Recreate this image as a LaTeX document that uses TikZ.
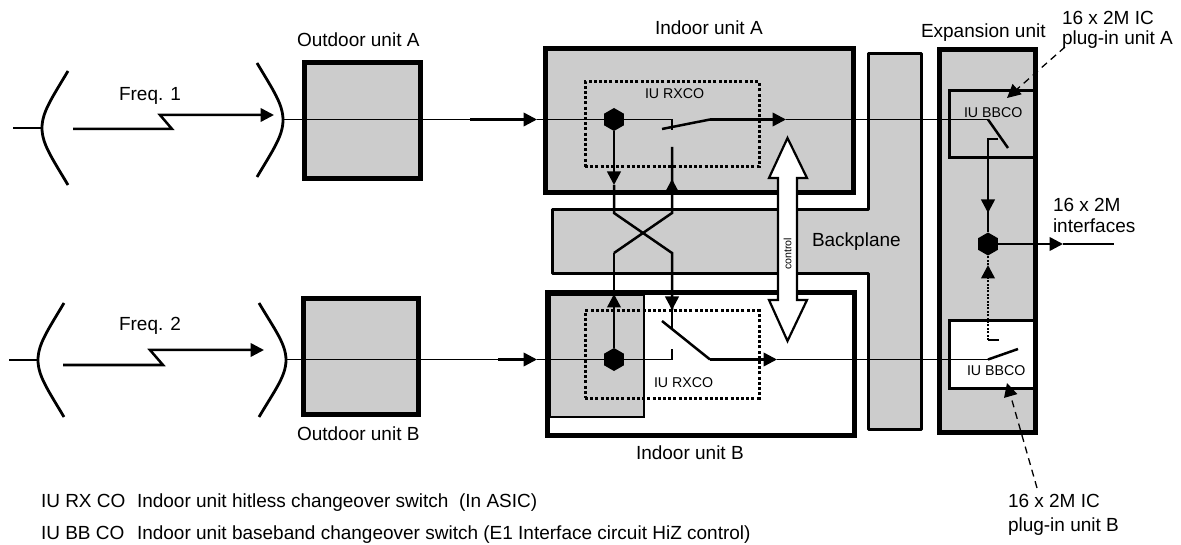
\documentclass[tikz,border=0pt]{standalone}
\usepackage{fontspec}
\setmainfont{Liberation Sans}
\usetikzlibrary{arrows.meta,shapes.geometric}
\definecolor{unitgray}{HTML}{CCCCCC}
\tikzset{
  unitbox/.style={draw=black,line width=5pt,inner sep=0pt,outer sep=0pt},
  plugbox/.style={draw=black,line width=3pt,inner sep=0pt,outer sep=0pt},
  dotbox/.style={draw=black,line width=3pt,dash pattern=on 3pt off 2.2pt,inner sep=0pt,outer sep=0pt},
  junction/.style={regular polygon,regular polygon sides=6,shape border rotate=30,fill=black,minimum size=23pt,inner sep=0pt,outer sep=0pt},
  lab/.style={anchor=base west,inner sep=0pt,outer sep=0pt,font=\fontsize{19}{21}\selectfont},
  smalllab/.style={anchor=base west,inner sep=0pt,outer sep=0pt,font=\fontsize{14.2}{16}\selectfont},
  dish/.style={line width=2.8pt},
  sig/.style={line width=1.7pt},
  thicksig/.style={line width=2.5pt},
  arr/.style={-{Triangle[length=13.5pt,width=13.5pt]}},
  dasharr/.style={line width=1.3pt,dash pattern=on 7pt off 5pt,-{Triangle[length=13.5pt,width=13.5pt]}}
}
\begin{document}
\begin{tikzpicture}[x=1pt,y=-1pt]
\useasboundingbox (0,0) rectangle (1181,545);

% backplane
\draw[fill=unitgray,line width=3pt,line join=round] (868,54) -- (921,54) -- (921,429) -- (868,429) -- (868,274) -- (552,274) -- (552,210) -- (868,210) -- cycle;

% units
\node[unitbox,fill=unitgray,minimum width=116pt,minimum height=116pt] (outA) at (362.5,120.5) {};
\node[unitbox,fill=unitgray,minimum width=115pt,minimum height=116pt] (outB) at (361,356.5) {};
\node[unitbox,fill=unitgray,minimum width=308pt,minimum height=144pt] (inA) at (699.5,120.5) {};
\node[unitbox,fill=white,minimum width=307pt,minimum height=143pt] (inB) at (701,364) {};
\node[draw=black,line width=1.5pt,fill=unitgray,inner sep=0pt,outer sep=0pt,minimum width=94pt,minimum height=122pt] (inBgray) at (597,356) {};
\node[unitbox,fill=unitgray,minimum width=96pt,minimum height=383pt] (exp) at (987.5,241) {};
\node[plugbox,fill=unitgray,minimum width=85pt,minimum height=67pt] (plugA) at (991.5,124.5) {};
\node[plugbox,fill=white,minimum width=85pt,minimum height=67pt] (plugB) at (991.5,354.5) {};

% dotted boxes
\node[dotbox,minimum width=174pt,minimum height=85pt] (rxA) at (672,124.5) {};
\node[dotbox,minimum width=174pt,minimum height=87pt] (rxB) at (672,354.5) {};

% junctions
\node[junction] (hexA) at (614,119.5) {};
\node[junction] (hexB) at (614,359.5) {};
\node[junction] (hexC) at (988,244) {};

% coordinates
\coordinate (dA1) at (68,71);   \coordinate (dA2) at (42,128);  \coordinate (dA3) at (68,185);
\coordinate (dA4) at (257,63);  \coordinate (dA5) at (283,120); \coordinate (dA6) at (257,177);
\coordinate (dB1) at (64,303);  \coordinate (dB2) at (38,360);  \coordinate (dB3) at (64,417);
\coordinate (dB4) at (259,303); \coordinate (dB5) at (286,360); \coordinate (dB6) at (259,417);
\coordinate (stA) at (13,128);  \coordinate (stB) at (9,360);

% dishes
\draw[dish] (dA1) .. controls +(-16,27) and +(0,-16) .. (dA2) .. controls +(0,16) and +(-16,-27) .. (dA3);
\draw[dish] (dB1) .. controls +(-16,27) and +(0,-16) .. (dB2) .. controls +(0,16) and +(-16,-27) .. (dB3);
\draw[dish] (dA4) .. controls +(16,27) and +(0,-16) .. (dA5) .. controls +(0,16) and +(16,-27) .. (dA6);
\draw[dish] (dB4) .. controls +(16,27) and +(0,-16) .. (dB5) .. controls +(0,16) and +(16,-27) .. (dB6);
\draw[sig] (stA) -- (dA2);
\draw[sig] (stB) -- (dB2);

% radio links
\coordinate (lA0) at (73,129); \coordinate (lA1) at (172,129); \coordinate (lA2) at (160,115); \coordinate (lA3) at (274,115);
\coordinate (lB0) at (63,365); \coordinate (lB1) at (163,365); \coordinate (lB2) at (150,350); \coordinate (lB3) at (264,350);
\draw[thicksig,arr] (lA0) -- (lA1) -- (lA2) -- (lA3);
\draw[thicksig,arr] (lB0) -- (lB1) -- (lB2) -- (lB3);

% upper signal path
\coordinate (a0) at (283,119.5); \coordinate (a1) at (470,119.5); \coordinate (a2) at (537,119.5);
\coordinate (pA) at (672,119.5); \coordinate (pA2) at (672,130);
\coordinate (sA1) at (662,129); \coordinate (sA2) at (710,119.5); \coordinate (a3) at (786,119.5);
\coordinate (pC) at (988,119.5); \coordinate (sC) at (1008,148); \coordinate (cA1) at (998,139); \coordinate (cA2) at (988,139);
\coordinate (tipC) at (988,213);
\draw[sig] (a0) -- (a1);
\draw[thicksig,arr] (a1) -- (a2);
\draw[sig] (a2) -- (hexA);
\draw[sig] (hexA) -- (pA) -- (pA2);
\draw[thicksig] (sA1) -- (sA2);
\draw[thicksig,arr] (sA2) -- (a3);
\draw[sig] (a3) -- (pC);
\draw[thicksig] (pC) -- (sC);
\draw[thicksig] (cA1) -- (cA2) -- (tipC);
\draw[thicksig,arr] (cA2) -- (tipC);
\draw[thicksig] (tipC) -- (hexC);

% lower signal path
\coordinate (b0) at (286,359.5); \coordinate (b1) at (498,359.5); \coordinate (b2) at (537,359.5);
\coordinate (pB) at (672,359.5); \coordinate (pB2) at (672,349);
\coordinate (sB1) at (662,321); \coordinate (sB2) at (710,359.5); \coordinate (b3) at (777,359.5);
\coordinate (pD) at (988,359.5); \coordinate (sD) at (1018,349); \coordinate (cB1) at (999,340); \coordinate (cB2) at (988,340);
\coordinate (tipD) at (988,265); \coordinate (tipD0) at (988,278.5);
\draw[sig] (b0) -- (b1);
\draw[thicksig,arr] (b1) -- (b2);
\draw[sig] (b2) -- (hexB);
\draw[sig] (hexB) -- (pB) -- (pB2);
\draw[thicksig] (sB1) -- (sB2);
\draw[thicksig,arr] (sB2) -- (b3);
\draw[sig] (b3) -- (pD);
\draw[thicksig] (pD) -- (sD);
\draw[thicksig] (cB1) -- (cB2);
\draw[line width=2.2pt,dash pattern=on 2pt off 1.4pt] (cB2) -- (hexC);
\draw[thicksig,arr] (tipD0) -- (tipD);

% output
\coordinate (o1) at (1063,244); \coordinate (o2) at (1114,244);
\draw[thicksig,arr] (hexC) -- (o1);
\draw[sig] (o1) -- (o2);

% crossover
\coordinate (x1t) at (614,185); \coordinate (x1a) at (614,213); \coordinate (x1b) at (672,253); \coordinate (x1c) at (672,310); \coordinate (x1d) at (672,329);
\coordinate (x2t) at (672,179); \coordinate (x2a) at (672,213); \coordinate (x2b) at (614,253); \coordinate (x2c) at (614,294); \coordinate (x2s) at (672,147);
\draw[thicksig,arr] (hexA) -- (x1t);
\draw[thicksig] (x1t) -- (x1a) -- (x1b) -- (x1c);
\draw[thicksig,arr] (x1b) -- (x1c);
\draw[thicksig] (x1c) -- (x1d);
\draw[thicksig] (x2s) -- (x2a) -- (x2b);
\draw[thicksig,arr] (x2a) -- (x2t);
\draw[thicksig] (x2b) -- (hexB);
\draw[thicksig,arr] (hexB) -- (x2c);

% control double arrow
\draw[fill=white,line width=2.2pt,line join=miter] (787.5,138) -- (807,178) -- (797,178) -- (797,300) -- (807,300) -- (787.5,341) -- (769,300) -- (778,300) -- (778,178) -- (769,178) -- cycle;
\node[rotate=90,inner sep=0pt,font=\fontsize{10.6}{12}\selectfont] (ctl) at (787.5,254) {control};

% dashed pointers
\coordinate (pa0) at (1065,47); \coordinate (pa1) at (1007,98);
\coordinate (pb0) at (1037,488); \coordinate (pb1) at (1007,383);
\draw[dasharr] (pa0) -- (pa1);
\draw[dasharr] (pb0) -- (pb1);

% labels
\node[lab] (tOA) at (297,47) {Outdoor unit A};
\node[lab] (tOB) at (297,440) {Outdoor unit B};
\node[lab] (tIA) at (655,35) {Indoor unit A};
\node[lab] (tIB) at (636,459) {Indoor unit B};
\node[lab] (tBP) at (812,247) {Backplane};
\node[lab] (tEU) at (921,38) {Expansion unit};
\node[lab] (tF1) at (119,101) {Freq. 1};
\node[lab] (tF2) at (119,331) {Freq. 2};
\node[lab] (tPA1) at (1062,25) {16 x 2M IC};
\node[lab] (tPA2) at (1062,45) {plug-in unit A};
\node[lab] (tIF1) at (1053,212) {16 x 2M};
\node[lab] (tIF2) at (1053,233) {interfaces};
\node[lab] (tPB1) at (1008,507) {16 x 2M IC};
\node[lab] (tPB2) at (1008,531) {plug-in unit B};
\node[lab] (tK1) at (41,507) {IU RX CO};
\node[lab] (tK2) at (41,539) {IU BB CO};
\node[lab] (tD1) at (137,507) {Indoor unit hitless changeover switch\ \ (In ASIC)};
\node[lab] (tD2) at (137,539) {Indoor unit baseband changeover switch (E1 Interface circuit HiZ control)};
\node[smalllab] (tRA) at (645,99) {IU RXCO};
\node[smalllab] (tRB) at (654,387) {IU RXCO};
\node[smalllab] (tBA) at (964,118) {IU BBCO};
\node[smalllab] (tBB) at (967,375) {IU BBCO};
\end{tikzpicture}
\end{document}
